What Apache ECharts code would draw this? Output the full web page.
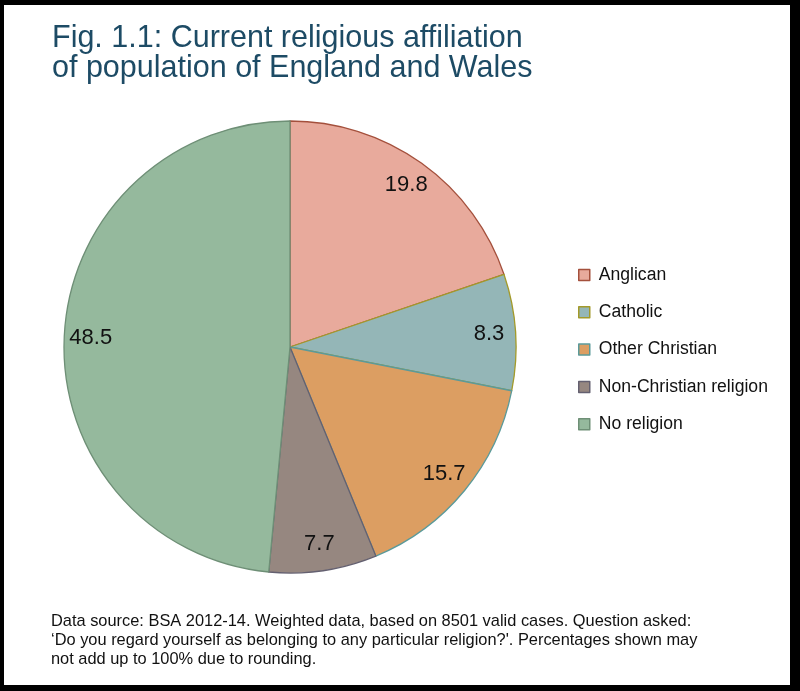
<!DOCTYPE html>
<html>
<head>
<meta charset="utf-8">
<script src="https://cdn.jsdelivr.net/npm/echarts@6/dist/echarts.min.js"></script>
<style>
html,body{margin:0;padding:0;background:#000;}
#chart{width:800px;height:691px;}
</style>
</head>
<body>
<div id="chart"></div>
<script>
const categories = ['Anglican', 'Catholic', 'Other Christian', 'Non-Christian religion', 'No religion'];
const values = [19.8, 8.3, 15.7, 7.7, 48.5];
const fillColors = ['#e8aa9c', '#94b6b7', '#dc9e62', '#968780', '#95b99d'];
const borderColors = ['#a4503c', '#a39a2a', '#5b9a9a', '#646070', '#6e8f76'];
const titleText = 'Fig. 1.1: Current religious affiliation\nof population of England and Wales';
const noteText = 'Data source: BSA 2012-14. Weighted data, based on 8501 valid cases. Question asked:\n\u2018Do you regard yourself as belonging to any particular religion?\'. Percentages shown may\nnot add up to 100% due to rounding.';

const FONT = '"Liberation Sans", Arial, Helvetica, sans-serif';

const mainData = categories.map((name, i) => ({
  name: name,
  value: values[i],
  itemStyle: { color: fillColors[i], borderColor: borderColors[i], borderWidth: 1.3 }
}));
const labelData = categories.map((name, i) => ({ name: name, value: values[i] }));

const chart = echarts.init(document.getElementById('chart'), null, { renderer: 'canvas' });
chart.setOption({
  backgroundColor: '#000',
  animation: false,
  graphic: [{
    type: 'rect', z: -10, silent: true,
    shape: { x: 4, y: 5, width: 786, height: 680 },
    style: { fill: '#fff' }
  }],
  title: [{
    text: titleText,
    left: 52, top: 24, padding: 0,
    textStyle: { fontFamily: FONT, fontSize: 30.5, fontWeight: 'normal', color: '#1d4b65', lineHeight: 30 }
  }, {
    text: noteText,
    left: 51, top: 612, padding: 0,
    textStyle: { fontFamily: FONT, fontSize: 16.4, fontWeight: 'normal', color: '#111', lineHeight: 19 }
  }],
  legend: {
    orient: 'vertical',
    left: 578, top: 265, padding: 0,
    itemWidth: 11, itemHeight: 11, itemGap: 17.3,
    icon: 'rect',
    itemStyle: { borderWidth: 1.5, borderColor: 'inherit' },
    textStyle: { fontFamily: FONT, fontSize: 17.6, color: '#111', lineHeight: 20, padding: [0, 0, 0, 4] },
    data: categories,
    selectedMode: false
  },
  series: [{
    type: 'pie',
    name: 'main',
    center: [290, 347],
    radius: [0, 226],
    startAngle: 90,
    clockwise: true,
    label: { show: false },
    labelLine: { show: false },
    emphasis: { disabled: true },
    data: mainData
  }, {
    type: 'pie',
    name: 'labels',
    center: [290, 347],
    radius: [167, 226],
    startAngle: 90,
    clockwise: true,
    silent: true,
    z: 3,
    itemStyle: { color: 'rgba(0,0,0,0)', borderWidth: 0 },
    label: {
      show: true, position: 'inside', formatter: '{c}',
      fontFamily: FONT, fontSize: 22, color: '#111'
    },
    labelLine: { show: false },
    emphasis: { disabled: true },
    data: labelData
  }]
});
</script>
</body>
</html>
